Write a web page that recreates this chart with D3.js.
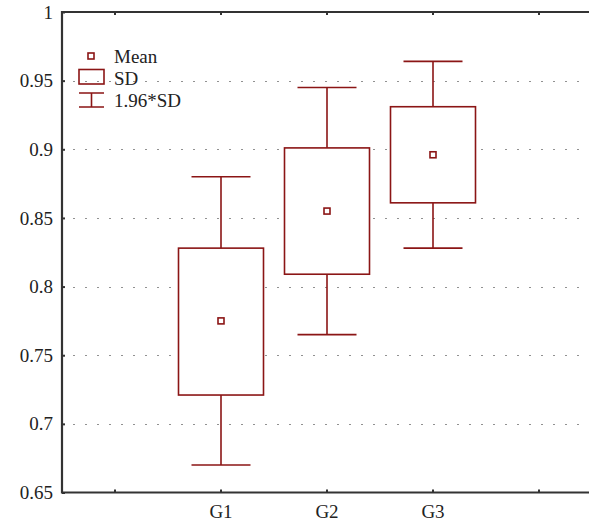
<!DOCTYPE html>
<html>
<head>
<meta charset="utf-8">
<script src="https://cdn.jsdelivr.net/npm/d3@7"></script>
<style>
	body { margin: 0; background: #fff; }
	svg { display: block; }
</style>
</head>
<body>
<div id="viz"></div>
<script>
"use strict";

var slots = ["", "G1", "G2", "G3", ""];
var groups = ["G1", "G2", "G3"];
var means = [0.775, 0.855, 0.896];
var sdLow = [0.721, 0.809, 0.861];
var sdHigh = [0.828, 0.901, 0.931];
var ciLow = [0.670, 0.765, 0.828];
var ciHigh = [0.880, 0.945, 0.964];
var yTicks = [0.65, 0.7, 0.75, 0.8, 0.85, 0.9, 0.95, 1];
var gridTicks = [0.7, 0.75, 0.8, 0.85, 0.9, 0.95];
var legendLabels = ["Mean", "SD", "1.96*SD"];

var width = 589,
	height = 522,
	plotLeft = 62,
	plotTop = 12,
	plotBottom = 492.5,
	red = "#8b1515",
	axisColor = "#333";

var svg = d3.select("#viz")
	.append("svg")
	.attr("width", width)
	.attr("height", height)
	.attr("font-family", "Liberation Serif")
	.attr("font-size", 19);

var x = d3.scaleBand()
	.domain(d3.range(slots.length))
	.range([plotLeft, plotLeft + 106 * slots.length]);

var y = d3.scaleLinear()
	.domain([0.65, 1])
	.range([plotBottom, plotTop]);

var cx = function(i) { return x(slots.indexOf(groups[i])) + x.bandwidth() / 2 };

// dotted grid
svg.append("g")
	.selectAll("line")
	.data(gridTicks)
	.enter()
	.append("line")
	.attr("x1", plotLeft)
	.attr("x2", width)
	.attr("y1", function(d) { return Math.round(y(d)) + 0.5 })
	.attr("y2", function(d) { return Math.round(y(d)) + 0.5 })
	.attr("stroke", "#222")
	.attr("stroke-width", 1)
	.attr("stroke-dasharray", "1,11")
	.attr("stroke-dashoffset", -11.5);

// whiskers
var whisk = svg.append("g")
	.attr("stroke", red)
	.attr("stroke-width", 1.6)
	.attr("fill", "none");

groups.forEach(function(g, i) {
	var c = cx(i), half = 29.5;
	whisk.append("line")
		.attr("x1", c).attr("x2", c)
		.attr("y1", y(ciHigh[i])).attr("y2", y(ciLow[i]));
	whisk.append("line")
		.attr("x1", c - half).attr("x2", c + half)
		.attr("y1", y(ciHigh[i])).attr("y2", y(ciHigh[i]));
	whisk.append("line")
		.attr("x1", c - half).attr("x2", c + half)
		.attr("y1", y(ciLow[i])).attr("y2", y(ciLow[i]));
});

// SD boxes
svg.append("g")
	.selectAll("rect")
	.data(groups)
	.enter()
	.append("rect")
	.attr("x", function(d, i) { return cx(i) - 42.5 })
	.attr("width", 85)
	.attr("y", function(d, i) { return y(sdHigh[i]) })
	.attr("height", function(d, i) { return y(sdLow[i]) - y(sdHigh[i]) })
	.attr("fill", "#fff")
	.attr("stroke", red)
	.attr("stroke-width", 1.6);

// means
svg.append("g")
	.selectAll("rect")
	.data(groups)
	.enter()
	.append("rect")
	.attr("x", function(d, i) { return cx(i) - 3 })
	.attr("y", function(d, i) { return y(means[i]) - 3 })
	.attr("width", 6)
	.attr("height", 6)
	.attr("fill", "#fff")
	.attr("stroke", red)
	.attr("stroke-width", 1.6);

// axes
var yAxis = svg.append("g")
	.attr("transform", "translate(" + plotLeft + ",0)")
	.call(d3.axisLeft(y).tickValues(yTicks).tickSize(-3).tickPadding(9)
		.tickFormat(function(d) { return d3.format("")(+d.toFixed(2)) }));

var xAxis = svg.append("g")
	.attr("transform", "translate(0," + plotBottom + ")")
	.call(d3.axisBottom(x).tickSize(-3).tickPadding(12)
		.tickFormat(function(d) { return slots[d] }));

var xTop = svg.append("g")
	.attr("transform", "translate(0," + plotTop + ")")
	.call(d3.axisTop(x).tickSize(-3).tickFormat(""));

[yAxis, xAxis, xTop].forEach(function(a) {
	// d3 puts sans-serif 10 on the axis group, take it off
	a.attr("font-family", "Liberation Serif").attr("font-size", 19);
	a.select(".domain").remove();
	a.selectAll(".tick line").attr("stroke", axisColor).attr("stroke-width", 2);
	a.selectAll("text")
		.attr("font-family", "Liberation Serif")
		.attr("font-size", 19)
		.attr("fill", "#222");
});

svg.append("path")
	.attr("d", "M" + width + "," + plotTop + "H" + plotLeft + "V" + plotBottom + "H" + width)
	.attr("fill", "none")
	.attr("stroke", axisColor)
	.attr("stroke-width", 2.2);

// legend
var legend = svg.append("g");

legend.append("rect")
	.attr("x", 88).attr("y", 53)
	.attr("width", 6).attr("height", 6)
	.attr("fill", "#fff").attr("stroke", red).attr("stroke-width", 1.6);

legend.append("rect")
	.attr("x", 79).attr("y", 69.5)
	.attr("width", 25).attr("height", 14.5)
	.attr("fill", "none").attr("stroke", red).attr("stroke-width", 1.6);

legend.append("path")
	.attr("d", "M79,93H104M91.5,93V107M79,107H104")
	.attr("fill", "none").attr("stroke", red).attr("stroke-width", 1.6);

legend.selectAll("text")
	.data(legendLabels)
	.enter()
	.append("text")
	.attr("x", 114)
	.attr("y", function(d, i) { return 63 + i * 22 })
	.attr("font-family", "Liberation Serif")
	.attr("font-size", 19)
	.attr("fill", "#222")
	.text(function(d) { return d });
</script>
</body>
</html>
